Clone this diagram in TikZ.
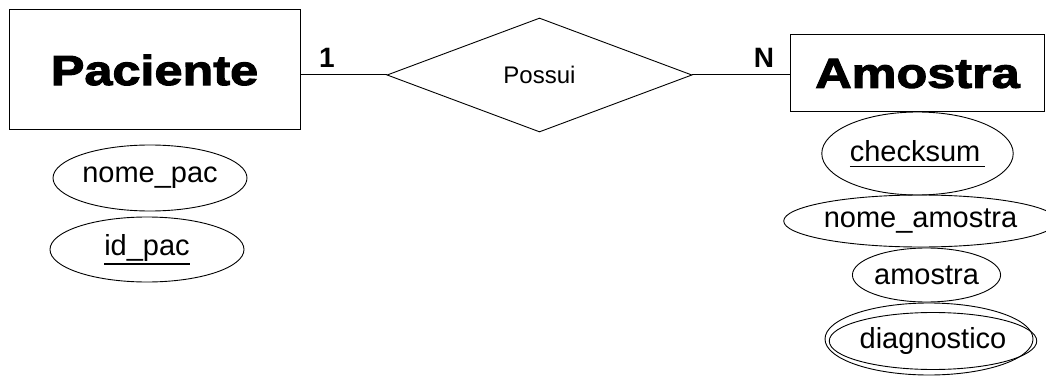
\documentclass[tikz,border=0pt]{standalone}
\usepackage{fontspec}
\setmainfont{Liberation Sans}
\newfontfamily\heavyfont[FakeBold=2.6,FakeStretch=1.2]{Liberation Sans Bold}
\usetikzlibrary{shapes.geometric}
% key attribute: text with a rule set a little below the baseline
\newlength\keywidth
\newcommand\keyattr[2][7pt]{\settowidth\keywidth{#2}\rlap{\rule[-#1]{\keywidth}{1.1pt}}#2}
\tikzset{
  entity/.style={draw, line width=1pt, inner sep=0pt, font=\heavyfont\fontsize{42}{42}\selectfont},
  relation/.style={draw, diamond, line width=0.9pt, inner sep=0pt, aspect=2.7,
    font=\fontsize{24}{24}\selectfont},
  attr/.style={draw, ellipse, line width=0.9pt, inner sep=0pt,
    font=\fontsize{29}{29}\selectfont},
  card/.style={font=\bfseries\fontsize{28}{28}\selectfont, inner sep=0pt},
  link/.style={line width=1pt}
}
\begin{document}
\begin{tikzpicture}[x=1pt,y=-1pt]
  \useasboundingbox (0,0) rectangle (1046,377);

  % entities
  \node[entity, minimum width=291pt, minimum height=120pt] (pac) at (154.5,70) {Paciente};
  \node[entity, minimum width=254pt, minimum height=77pt] (amo) at (917.5,73.5) {Amostra};

  % relationship
  \node[relation, minimum width=305pt, minimum height=114pt] (rel) at (539.5,75) {Possui};

  \draw[link] (rel.west) -- (rel.west -| pac.east);
  \draw[link] (rel.east) -- (rel.east -| amo.west);

  % cardinalities
  \node[card] (c1) at (327,58) {1};
  \node[card] (cn) at (764,58) {N};

  % attributes of Paciente
  \node[attr, minimum width=194pt, minimum height=66pt] (nomepac) at (150,178) {nome\_pac};
  \node[attr, minimum width=194pt, minimum height=65pt] (idpac) at (147,249.5) {\keyattr[9pt]{id\_pac}};

  % attributes of Amostra
  \node[attr, minimum width=185pt, minimum height=83pt] (chk) at (917.5,153.5) {\keyattr[6pt]{checksum\,}};
  \node[attr, minimum width=245pt, minimum height=52pt] (nomeamo) at (920.5,221) {nome\_amostra};
  \node[attr, minimum width=147pt, minimum height=54pt] (amostra) at (926.5,275) {amostra};
  \node[attr, minimum width=208pt, minimum height=72pt] (diagout) at (929,339) {};
  \node[attr, minimum width=180pt, minimum height=57pt] (diag) at (933,341) {diagnostico};
\end{tikzpicture}
\end{document}
